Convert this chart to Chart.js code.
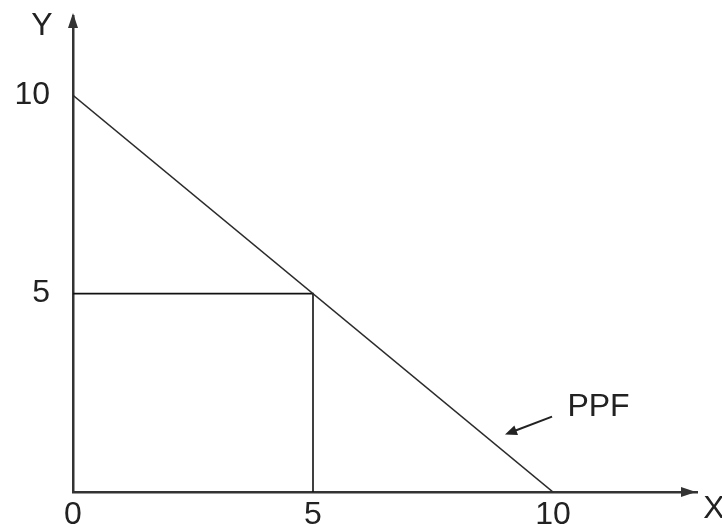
<!DOCTYPE html>
<html>
<head>
<meta charset="utf-8">
<script src="https://cdn.jsdelivr.net/npm/chart.js@4.4.0/dist/chart.umd.min.js"></script>
<style>
  html, body { margin: 0; padding: 0; background: #fff; }
  #wrap { width: 722px; height: 527px; }
</style>
</head>
<body>
<div id="wrap"><canvas id="ppfChart"></canvas></div>
<script>
// PPF line and the point (5,5) guide lines
const ppfX = [0, 10];
const ppfY = [10, 0];
const guideX = [0, 5, 5];
const guideY = [5, 5, 0];
const xTicks = [0, 5, 10];
const yTicks = [5, 10];
const xMax = 13;
const yMax = 12;

const axisColor = '#333333';
const fontFace = '"Liberation Sans", Arial, sans-serif';

function pts(xs, ys) {
  return xs.map((x, i) => ({ x: x, y: ys[i] }));
}

// axis arrows, axis names and the PPF callout
const extras = {
  id: 'extras',
  afterDraw(chart) {
    const c = chart.ctx;
    const a = chart.chartArea;
    const xs = chart.scales.x;
    const ys = chart.scales.y;
    c.save();
    c.fillStyle = axisColor;
    c.strokeStyle = axisColor;

    // y arrow
    c.beginPath();
    c.moveTo(a.left, a.top - 3);
    c.lineTo(a.left - 5, a.top + 12);
    c.lineTo(a.left + 5, a.top + 12);
    c.closePath();
    c.fill();
    // x arrow
    c.beginPath();
    c.moveTo(a.right - 1, a.bottom);
    c.lineTo(a.right - 16, a.bottom - 5);
    c.lineTo(a.right - 16, a.bottom + 5);
    c.closePath();
    c.fill();

    c.font = '32px ' + fontFace;
    c.fillStyle = '#222';
    c.textAlign = 'center';
    c.textBaseline = 'middle';
    c.fillText('Y', 42, 26);
    c.fillText('X', 714, 509);

    // callout
    const tx = xs.getPixelForValue(9.0);
    const ty = ys.getPixelForValue(1.45);
    const sx = xs.getPixelForValue(9.98);
    const sy = ys.getPixelForValue(1.9);
    c.strokeStyle = '#222';
    c.lineWidth = 2;
    c.beginPath();
    c.moveTo(sx, sy);
    c.lineTo(tx + 8, ty - 3);
    c.stroke();
    const ang = Math.atan2(ty - sy, tx - sx);
    c.beginPath();
    c.moveTo(tx, ty);
    c.lineTo(tx - 13 * Math.cos(ang - 0.4), ty - 13 * Math.sin(ang - 0.4));
    c.lineTo(tx - 13 * Math.cos(ang + 0.4), ty - 13 * Math.sin(ang + 0.4));
    c.closePath();
    c.fillStyle = '#222';
    c.fill();

    c.textAlign = 'left';
    c.fillText('PPF', xs.getPixelForValue(10.3), ys.getPixelForValue(2.14));
    c.restore();
  }
};

new Chart(document.getElementById('ppfChart'), {
  type: 'scatter',
  data: {
    datasets: [
      {
        data: pts(ppfX, ppfY),
        showLine: true,
        borderColor: '#2b2b2b',
        borderWidth: 1.6,
        pointRadius: 0,
      },
      {
        data: pts(guideX, guideY),
        showLine: true,
        borderColor: '#111111',
        borderWidth: 1.6,
        pointRadius: 0,
      },
    ],
  },
  options: {
    responsive: true,
    maintainAspectRatio: false,
    animation: false,
    layout: { padding: { top: 16, right: 25, left: 0, bottom: 0 } },
    plugins: {
      legend: { display: false },
      tooltip: { enabled: false },
    },
    scales: {
      x: {
        type: 'linear',
        min: 0,
        max: xMax,
        afterFit(s) { s.height = 35; s.paddingLeft = 0; s.paddingRight = 0; },
        afterBuildTicks(s) { s.ticks = xTicks.map(v => ({ value: v })); },
        grid: { display: false, drawTicks: false },
        border: { display: true, color: axisColor, width: 2.5 },
        ticks: {
          padding: 4,
          color: '#222',
          maxRotation: 0,
          autoSkip: false,
          font: { family: fontFace, size: 32 },
          callback: v => String(v),
        },
      },
      y: {
        type: 'linear',
        min: 0,
        max: yMax,
        afterFit(s) { s.width = 73; s.paddingTop = 0; s.paddingBottom = 0; },
        afterBuildTicks(s) { s.ticks = yTicks.map(v => ({ value: v })); },
        grid: { display: false, drawTicks: false },
        border: { display: true, color: axisColor, width: 2.5 },
        ticks: {
          padding: 23,
          color: '#222',
          autoSkip: false,
          font: { family: fontFace, size: 32 },
          callback: v => String(v),
        },
      },
    },
  },
  plugins: [extras],
});
</script>
</body>
</html>
